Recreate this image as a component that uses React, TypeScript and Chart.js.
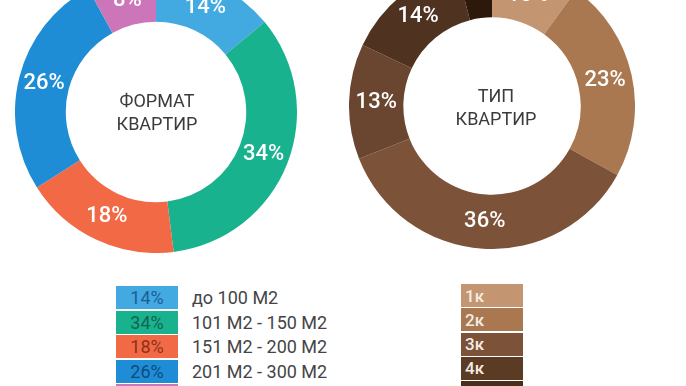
import React, { useEffect, useRef } from "react";
import { Chart, registerables } from "chart.js";

Chart.register(...registerables);

const formatLabels = ["до 100 М2", "101 М2 - 150 М2", "151 М2 - 200 М2", "201 М2 - 300 М2", "более 300 М2"];
const formatValues = [14, 34, 18, 26, 8];
const formatColors = ["#42a9e1", "#19b28e", "#f26a45", "#1e8dd6", "#cc75b9"];
const formatTextColors = ["#1b5f91", "#14634f", "#8e2f19", "#0e4b80", "#6e2b62"];

const typeLabels = ["1к", "2к", "3к", "4к", "5к", "6к"];
const typeValues = [10, 23, 36, 13, 14, 4];
const typeColors = ["#c49571", "#a97850", "#7c5238", "#6a4530", "#4f3220", "#2d190b"];
const typeLegendColors = ["#c49571", "#a97850", "#7c5238", "#5c3b25", "#4a2e1c", "#2d190b"];

const FONT = "Roboto, 'DejaVu Sans', sans-serif";

const labelPlugin = {
  id: "sliceLabels",
  afterDatasetsDraw(chart: any) {
    const ctx = chart.ctx;
    const meta = chart.getDatasetMeta(0);
    const data = chart.data.datasets[0].data as number[];
    ctx.save();
    ctx.fillStyle = "#ffffff";
    ctx.font = `500 22px ${FONT}`;
    ctx.textAlign = "center";
    ctx.textBaseline = "middle";
    meta.data.forEach((arc: any, i: number) => {
      const p = arc.getCenterPoint();
      ctx.fillText(`${data[i]}%`, p.x, p.y);
    });
    ctx.restore();
  },
};

function Donut(props: {
  values: number[];
  colors: string[];
  labels: string[];
  size: number;
  cutout: string;
  left: number;
  top: number;
}) {
  const ref = useRef<HTMLCanvasElement>(null);
  useEffect(() => {
    if (!ref.current) return;
    const chart = new Chart(ref.current, {
      type: "doughnut",
      data: {
        labels: props.labels,
        datasets: [
          {
            data: props.values,
            backgroundColor: props.colors,
            borderWidth: 0,
          },
        ],
      },
      options: {
        responsive: false,
        animation: false,
        cutout: props.cutout,
        layout: { padding: 0 },
        plugins: { legend: { display: false }, tooltip: { enabled: false } },
      },
      plugins: [labelPlugin],
    });
    return () => chart.destroy();
  }, []);
  return (
    <canvas
      ref={ref}
      width={props.size}
      height={props.size}
      style={{ position: "absolute", left: props.left, top: props.top, width: props.size, height: props.size }}
    />
  );
}

function CenterText(props: { lines: string[]; cx: number; cy: number }) {
  return (
    <div
      style={{
        position: "absolute",
        left: props.cx - 80,
        top: props.cy - 30,
        width: 160,
        height: 60,
        display: "flex",
        flexDirection: "column",
        justifyContent: "center",
        alignItems: "center",
        fontFamily: FONT,
        fontSize: 18,
        lineHeight: "23px",
        color: "#3b3b3d",
      }}
    >
      {props.lines.map((l, i) => (
        <div key={i}>{l}</div>
      ))}
    </div>
  );
}

export default function App() {
  const leftRows = formatLabels.map((lab, i) => (
    <div key={i} style={{ position: "absolute", left: 116, top: 286 + i * 24.5, height: 23, display: "flex", alignItems: "center" }}>
      <div
        style={{
          width: 62,
          height: 23,
          background: formatColors[i],
          color: formatTextColors[i],
          fontFamily: FONT,
          fontSize: 18,
          display: "flex",
          alignItems: "center",
          justifyContent: "center",
        }}
      >
        {formatValues[i]}%
      </div>
      <div style={{ marginLeft: 14, fontFamily: FONT, fontSize: 18, color: "#444446", whiteSpace: "nowrap" }}>{lab}</div>
    </div>
  ));
  const rightRows = typeLabels.map((lab, i) => (
    <div
      key={i}
      style={{
        position: "absolute",
        left: 461,
        top: 284 + i * 24.3,
        width: 62,
        height: 23,
        background: typeLegendColors[i],
        color: "#f4ece4",
        fontFamily: FONT,
        fontSize: 17,
        fontWeight: 500,
        display: "flex",
        alignItems: "center",
        paddingLeft: 4,
        boxSizing: "border-box",
      }}
    >
      {lab}
    </div>
  ));
  return (
    <div style={{ position: "fixed", left: 0, top: 0, width: 686, height: 386, overflow: "hidden", background: "#ffffff" }}>
      <Donut values={formatValues} colors={formatColors} labels={formatLabels} size={282} cutout="64%" left={15} top={-29} />
      <Donut values={typeValues} colors={typeColors} labels={typeLabels} size={286} cutout="62%" left={349} top={-37} />
      <CenterText lines={["ФОРМАТ", "КВАРТИР"]} cx={157} cy={112} />
      <CenterText lines={["ТИП", "КВАРТИР"]} cx={496} cy={107} />
      {leftRows}
      {rightRows}
    </div>
  );
}
